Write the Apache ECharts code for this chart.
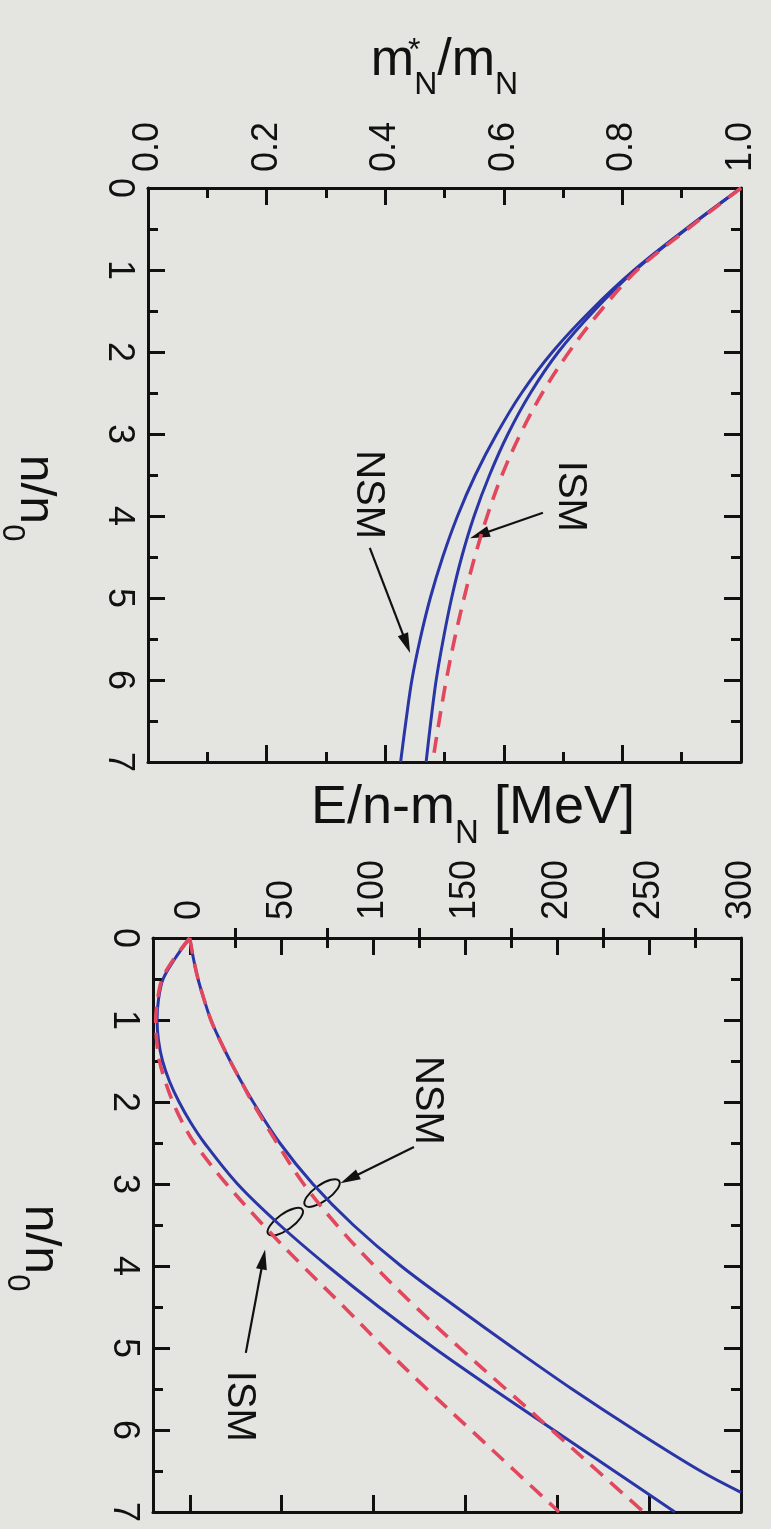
<!DOCTYPE html>
<html><head><meta charset="utf-8">
<script src="https://cdn.jsdelivr.net/npm/echarts@6/dist/echarts.min.js"></script>
<style>html,body{margin:0;padding:0;background:#e4e5e1;}#c{width:771px;height:1529px;}</style>
</head><body><div id="c"></div>
<script>
// ---------- data ----------
// Panel 1: effective nucleon mass m*_N/m_N vs n/n0
const nGrid1 = [0, 0.5, 1, 1.5, 2, 2.5, 3, 3.5, 4, 4.5, 5, 5.5, 6, 6.5, 7];
const mStarNSM    = [1.0, 0.907, 0.820, 0.746, 0.682, 0.630, 0.588, 0.552, 0.522, 0.497, 0.476, 0.459, 0.445, 0.435, 0.426];
const mStarISM    = [1.0, 0.908, 0.822, 0.752, 0.692, 0.645, 0.607, 0.576, 0.550, 0.529, 0.512, 0.498, 0.486, 0.477, 0.469];
const mStarISMalt = [1.0, 0.910, 0.825, 0.763, 0.710, 0.665, 0.628, 0.597, 0.572, 0.551, 0.533, 0.517, 0.503, 0.491, 0.480];
// Panel 2: energy per nucleon E/n - m_N [MeV] vs n/n0
const nGrid2   = [0, 0.25, 0.5, 0.75, 1, 1.25, 1.5, 1.75, 2, 2.25, 2.5, 3, 3.5, 4, 4.5, 5, 5.5, 6, 6.5, 7];
const eISM     = [0, -8, -14.5, -17, -17.8, -17, -14.8, -11, -5.8, 0.5, 8, 26, 49, 75, 103, 133, 165, 198, 231, 264];
const eISMalt  = [0, -8.5, -15, -17.5, -18.5, -18, -16.5, -13.3, -9.2, -4, 2.5, 20, 40, 61.5, 84, 106, 129, 153, 177, 201];
const nGridNSM = [0, 0.25, 0.5, 0.75, 1, 1.25, 1.5, 1.75, 2, 2.5, 3, 3.5, 4, 4.5, 5, 5.5, 6, 6.5, 6.76];
const eNSM     = [0, 2, 4.5, 7.8, 11.5, 16.5, 22, 28, 34.5, 49, 67, 89, 115, 145, 176, 208, 242, 278, 300];
const nGridNSMalt = [0, 0.25, 0.5, 0.75, 1, 1.25, 1.5, 1.75, 2, 2.5, 3, 3.5, 4, 4.5, 5, 5.5, 6, 6.5, 7];
const eNSMalt  = [0, 2, 4.5, 7.8, 11.5, 16.5, 22, 28, 34, 47.5, 62, 80, 100.5, 123, 147, 172, 197, 222, 247];
// tick labels
const eMajorTicks = [0, 50, 100, 150, 200, 250, 300];
const eMinorTicks = [25, 75, 125, 175, 225, 275];
const curveNames = ['NSM', 'ISM'];

// ---------- styles ----------
const FONT = '"Liberation Sans", Arial, Helvetica, sans-serif';
const INK = '#111111';
const BLUE = '#2a36a6';
const RED = '#e2475e';
const lineSty = {color: INK, width: 3};

function zip(xs, ys) { return xs.map((x, i) => [x, ys[i]]); }

function valAxis(o) {
  const base = {
    type: 'value', axisLine: {show: true, onZero: false, lineStyle: lineSty},
    axisTick: {show: true, inside: true, length: 17, lineStyle: lineSty},
    splitLine: {show: false}, minorSplitLine: {show: false},
    axisLabel: {show: false},
    nameMoveOverlap: false
  };
  return Object.assign(base, o);
}
const labelSty = {fontSize: 36, fontFamily: FONT, color: INK, rotate: -90};
function rich(size) {
  return {
    i: {fontSize: size, fontFamily: FONT, color: INK, verticalAlign: 'top', lineHeight: size + 8},
    st: {fontSize: 32, fontFamily: FONT, color: INK, verticalAlign: 'top', lineHeight: 30, width: 0, align: 'left'},
    sb: {fontSize: Math.round(size * 0.62), fontFamily: FONT, color: INK, verticalAlign: 'top',
         lineHeight: Math.round(size * 0.68), padding: [Math.round(size * 0.66), 0, 0, 0]}
  };
}

const xAxes = [
  // panel 1: m*/m
  valAxis({gridIndex: 0, position: 'top', min: 0, max: 1, interval: 0.2,
    minorTick: {show: true, splitNumber: 2, length: 10, lineStyle: lineSty},
    axisLabel: Object.assign({show: true, margin: 16, formatter: v => v.toFixed(1)}, labelSty),
    name: '{i|m}{st|*}{sb|N}{i|/m}{sb|N}', nameLocation: 'middle', nameGap: 93,
    nameTextStyle: {rich: rich(52)}}),
  valAxis({gridIndex: 0, position: 'bottom', min: 0, max: 1, interval: 0.2,
    minorTick: {show: true, splitNumber: 2, length: 10, lineStyle: lineSty}}),
  // panel 2: E/n - m_N
  valAxis({gridIndex: 1, position: 'top', min: -20, max: 300,
    axisTick: {show: true, inside: true, length: 17, lineStyle: lineSty, customValues: eMajorTicks},
    axisLabel: Object.assign({show: true, margin: 18, customValues: eMajorTicks}, labelSty),
    name: '{i|E/n-m}{sb|N}{i| [MeV]}', nameLocation: 'middle', nameGap: 95,
    nameTextStyle: {rich: rich(54), padding: [0, 0, 0, 52]}}),
  valAxis({gridIndex: 1, position: 'top', min: -20, max: 300, axisLine: {show: false},
    axisTick: {show: true, inside: true, length: 10, lineStyle: lineSty, customValues: eMinorTicks}}),
  valAxis({gridIndex: 1, position: 'bottom', min: -20, max: 300,
    axisTick: {show: true, inside: true, length: 17, lineStyle: lineSty, customValues: eMajorTicks}}),
  valAxis({gridIndex: 1, position: 'bottom', min: -20, max: 300, axisLine: {show: false},
    axisTick: {show: true, inside: true, length: 10, lineStyle: lineSty, customValues: eMinorTicks}})
];

function nAxis(gi, pos, withLabel) {
  const o = {gridIndex: gi, position: pos, min: 0, max: 7, interval: 1, inverse: true,
    minorTick: {show: true, splitNumber: 2, length: 10, lineStyle: lineSty}};
  if (withLabel) {
    o.axisLabel = Object.assign({show: true, margin: 11}, labelSty);
    o.name = '{i|n/n}{sb|0}';
    o.nameLocation = 'middle';
    o.nameRotate = -90;
    o.nameGap = 88;
    o.nameTextStyle = {rich: rich(50), padding: [0, 0, 0, 46]};
  }
  return valAxis(o);
}
const yAxes = [nAxis(0, 'left', true), nAxis(0, 'right', false), nAxis(1, 'left', true), nAxis(1, 'right', false)];

function curve(name, xi, yi, data, color, dashed) {
  return {type: 'line', name: name, xAxisIndex: xi, yAxisIndex: yi, data: data,
    showSymbol: false, symbol: 'none', smooth: 0.35, silent: true, z: dashed ? 3 : 2,
    lineStyle: {color: color, width: dashed ? 3.6 : 3, type: dashed ? [16, 10] : 'solid'}};
}
const series = [
  curve(curveNames[0], 0, 0, zip(mStarNSM, nGrid1), BLUE, false),
  curve(curveNames[1], 0, 0, zip(mStarISM, nGrid1), BLUE, false),
  curve(curveNames[1], 0, 0, zip(mStarISMalt, nGrid1), RED, true),
  curve(curveNames[1], 2, 2, zip(eISM, nGrid2), BLUE, false),
  curve(curveNames[0], 2, 2, zip(eNSM, nGridNSM), BLUE, false),
  curve(curveNames[1], 2, 2, zip(eISMalt, nGrid2), RED, true),
  curve(curveNames[0], 2, 2, zip(eNSMalt, nGridNSMalt), RED, true)
];

const chart = echarts.init(document.getElementById('c'), null, {renderer: 'canvas'});
chart.setOption({
  backgroundColor: '#e4e5e1',
  animation: false,
  grid: [
    {left: 148, top: 188, width: 593, height: 574, containLabel: false, outerBoundsMode: 'none'},
    {left: 153, top: 938, width: 588, height: 574, containLabel: false, outerBoundsMode: 'none'}
  ],
  xAxis: xAxes, yAxis: yAxes, series: series
});

// ---------- annotations (placed in data coordinates) ----------
const annotations = [
  {panel: 0, text: 'ISM', at: [0.712, 3.76], from: [0.666, 3.96], to: [0.543, 4.27]},
  {panel: 0, text: 'NSM', at: [0.371, 3.74], from: [0.374, 4.39], to: [0.442, 5.67]},
  {panel: 1, text: 'NSM', at: [129, 1.98], from: [122, 2.55], to: [82, 2.99], ring: [72, 3.11]},
  {panel: 1, text: 'ISM', at: [27, 5.71], from: [30.5, 5.06], to: [41, 3.80], ring: [52, 3.46]}
];
function px(panel, pt) { return chart.convertToPixel({seriesIndex: panel === 0 ? 0 : 3}, pt); }
const g = [];
annotations.forEach(a => {
  const t = px(a.panel, a.at);
  g.push({type: 'text', x: t[0], y: t[1], rotation: -Math.PI / 2, silent: true,
    style: {text: a.text, fontSize: 40, fontFamily: FONT, fill: INK, align: 'center', verticalAlign: 'middle'}});
  const p0 = px(a.panel, a.from), p1 = px(a.panel, a.to);
  const dx = p1[0] - p0[0], dy = p1[1] - p0[1], L = Math.hypot(dx, dy), ux = dx / L, uy = dy / L;
  const hl = 20, hw = 5.5, bx = p1[0] - ux * hl, by = p1[1] - uy * hl;
  g.push({type: 'line', silent: true, shape: {x1: p0[0], y1: p0[1], x2: bx + ux * 3, y2: by + uy * 3},
    style: {stroke: INK, lineWidth: 2.2}});
  g.push({type: 'polygon', silent: true,
    shape: {points: [[p1[0], p1[1]], [bx - uy * hw, by + ux * hw], [bx + uy * hw, by - ux * hw]]},
    style: {fill: INK}});
  if (a.ring) {
    const c = px(a.panel, a.ring);
    g.push({type: 'ellipse', x: c[0], y: c[1], rotation: 0.62, silent: true,
      shape: {cx: 0, cy: 0, rx: 21, ry: 8}, style: {fill: 'none', stroke: INK, lineWidth: 2}});
  }
});
chart.setOption({graphic: g});
</script>
</body></html>
